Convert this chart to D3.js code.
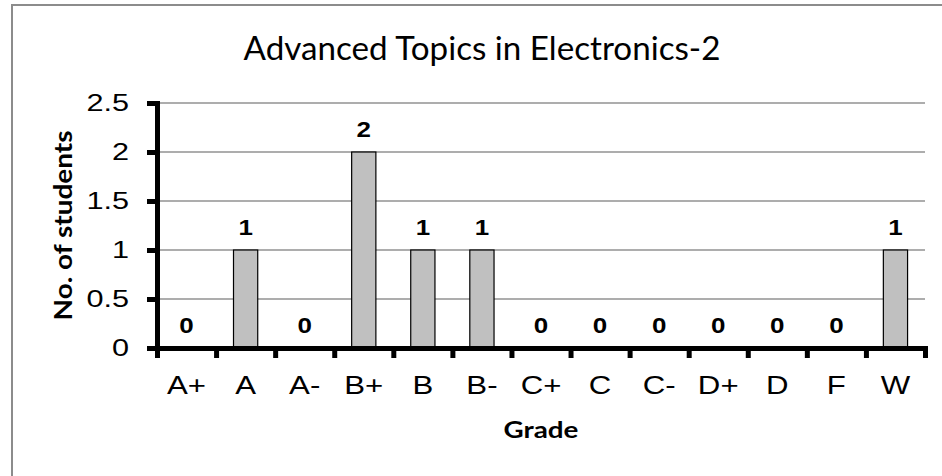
<!DOCTYPE html>
<html>
<head>
<meta charset="utf-8">
<script src="https://cdn.jsdelivr.net/npm/d3@7/dist/d3.min.js"></script>
<style>
  html, body { margin: 0; padding: 0; background: #fff; }
  svg { display: block; }
</style>
</head>
<body>
<script>
// Grade distribution for the course
const categories = ["A+", "A", "A-", "B+", "B", "B-", "C+", "C", "C-", "D+", "D", "F", "W"];
const students = [0, 1, 0, 2, 1, 1, 0, 0, 0, 0, 0, 0, 1];
const yTicks = [0, 0.5, 1, 1.5, 2, 2.5];
const titleText = "Advanced Topics in Electronics-2";
const xTitle = "Grade";
const yTitle = "No. of students";

const W = 942, H = 476;
const plot = { left: 157, right: 925, top: 103, bottom: 348 };

const svg = d3.select("body").append("svg")
  .attr("width", W).attr("height", H);

// outer frame
svg.append("rect")
  .attr("x", 12).attr("y", 5)
  .attr("width", 1000).attr("height", 1000)
  .attr("fill", "#fff")
  .attr("stroke", "#8c8c8c").attr("stroke-width", 2);

const x = d3.scaleBand()
  .domain(categories)
  .range([plot.left, plot.right])
  .paddingInner(0.59)
  .paddingOuter(0.295);

const xEdge = d3.scaleLinear()
  .domain([0, categories.length])
  .range([plot.left, plot.right]);

const y = d3.scaleLinear()
  .domain([0, 2.5])
  .range([plot.bottom, plot.top]);

// widen text horizontally around its anchor point
function stretch(sel, sx) {
  sel.each(function () {
    const t = d3.select(this);
    const tx = +t.attr("x") || 0;
    const ty = +t.attr("y") || 0;
    t.attr("x", null).attr("y", null)
      .attr("transform", `translate(${tx},${ty}) scale(${sx},1)`);
  });
}

// horizontal gridlines
svg.append("g")
  .selectAll("line")
  .data(yTicks.filter(d => d > 0))
  .join("line")
  .attr("x1", plot.left).attr("x2", plot.right)
  .attr("y1", d => y(d)).attr("y2", d => y(d))
  .attr("stroke", "#929292").attr("stroke-width", 1.5);

// bars
svg.append("g")
  .selectAll("rect")
  .data(categories.map((c, i) => ({ c, v: students[i] })))
  .join("rect")
  .attr("x", d => x(d.c))
  .attr("width", x.bandwidth())
  .attr("y", d => y(d.v))
  .attr("height", d => y(0) - y(d.v))
  .attr("fill", "#c0c0c0")
  .attr("stroke", "#000").attr("stroke-width", 1.2);

// y axis
const yAxis = svg.append("g")
  .attr("transform", `translate(${plot.left},0)`)
  .call(d3.axisLeft(y).tickValues(yTicks).tickSize(10).tickSizeOuter(0).tickPadding(18)
    .tickFormat(d3.format("~g")));
yAxis.select(".domain")
  .attr("stroke", "#000").attr("stroke-width", 5).attr("stroke-linecap", "square");
yAxis.selectAll(".tick line").attr("stroke", "#000").attr("stroke-width", 5);
yAxis.selectAll(".tick text")
  .attr("font-family", "'Liberation Sans', Arial, sans-serif")
  .attr("font-size", 24.5).attr("fill", "#000")
  .call(stretch, 1.25);

// x axis: tick marks at category boundaries
const xTicks = svg.append("g")
  .attr("transform", `translate(0,${plot.bottom})`)
  .call(d3.axisBottom(xEdge).tickValues(d3.range(categories.length + 1))
    .tickSize(10).tickSizeOuter(0).tickFormat(""));
xTicks.select(".domain")
  .attr("stroke", "#000").attr("stroke-width", 5).attr("stroke-linecap", "square");
xTicks.selectAll(".tick line").attr("stroke", "#000").attr("stroke-width", 5);

// x axis: category labels
const xLabels = svg.append("g")
  .attr("transform", `translate(0,${plot.bottom})`)
  .call(d3.axisBottom(x).tickSize(0).tickPadding(28));
xLabels.select(".domain").remove();
xLabels.selectAll(".tick text")
  .attr("font-family", "'Liberation Sans', Arial, sans-serif")
  .attr("font-size", 26).attr("fill", "#000")
  .call(stretch, 1.2);

// value labels
svg.append("g")
  .selectAll("text")
  .data(categories.map((c, i) => ({ c, v: students[i] })))
  .join("text")
  .attr("x", d => x(d.c) + x.bandwidth() / 2)
  .attr("y", d => y(d.v) - 15)
  .attr("text-anchor", "middle")
  .attr("font-family", "'Liberation Sans', Arial, sans-serif")
  .attr("font-weight", "bold")
  .attr("font-size", 22)
  .attr("fill", "#000")
  .text(d => d.v)
  .call(stretch, 1.18);

// fit a text element to a given width
function fitWidth(sel, w) {
  sel.each(function () {
    const len = this.getComputedTextLength();
    const t = d3.select(this);
    const base = t.attr("transform") || "";
    t.attr("transform", `${base} scale(${w / len},1)`);
  });
}

// chart title
svg.append("text")
  .attr("transform", "translate(482,60)")
  .attr("text-anchor", "middle")
  .attr("font-family", "Lato, 'Open Sans', sans-serif")
  .attr("font-size", 32)
  .attr("fill", "#000")
  .text(titleText)
  .call(fitWidth, 477);

// axis titles
svg.append("text")
  .attr("transform", "translate(541,438)")
  .attr("text-anchor", "middle")
  .attr("font-family", "Lato, 'Open Sans', sans-serif")
  .attr("font-weight", "bold")
  .attr("font-size", 23)
  .attr("fill", "#000")
  .text(xTitle)
  .call(fitWidth, 75);

svg.append("text")
  .attr("transform", `translate(72,${(plot.top + plot.bottom) / 2}) rotate(-90)`)
  .attr("text-anchor", "middle")
  .attr("font-family", "Lato, 'Open Sans', sans-serif")
  .attr("font-weight", "bold")
  .attr("font-size", 24)
  .attr("fill", "#000")
  .text(yTitle)
  .call(fitWidth, 190);
</script>
</body>
</html>
